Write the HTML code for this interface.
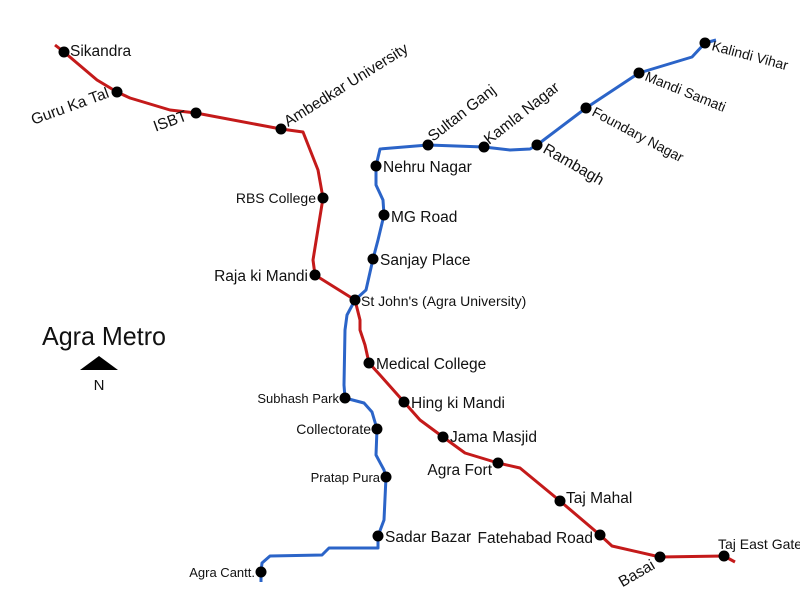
<!DOCTYPE html>
<html><head><meta charset="utf-8"><style>
html,body{margin:0;padding:0;background:#fff;}
svg{display:block;}
text{font-family:"Liberation Sans",sans-serif;fill:#111;}
</style></head><body>
<svg width="800" height="600" viewBox="0 0 800 600" xmlns="http://www.w3.org/2000/svg">
<rect width="800" height="600" fill="#fff"/>
<polyline fill="none" stroke="#c41a1a" stroke-width="3" stroke-linejoin="round" points="55,45 64,52 97,80 117,92 130,98 170,110 196,113 281,129 303,132 318,170 323,198 313,260 315,275 355,300 360,320 360,330 365,345 369,363 380,375 404,402 420,420 443,437 465,453 498,463 520,468 560,501 600,535 612,546 660,557 724,556 735,562"/>
<polyline fill="none" stroke="#2b64c8" stroke-width="3" stroke-linejoin="round" points="716,40 705,43 692,57 639,73 586,108 537,145 530,149 510,150 484,147 428,145 380,149 376,166 376,185 383,200 384,215 378,240 373,259 366,290 355,300 347,315 345,330 344,385 345,398 364,403 372,412 377,429 376,455 384,470 386,477 384,520 378,536 378,548 329,548 322,555 270,556 262,563 261,572 261,582"/>
<g fill="#000">
<circle cx="64" cy="52" r="5.5"/><circle cx="117" cy="92" r="5.5"/><circle cx="196" cy="113" r="5.5"/><circle cx="281" cy="129" r="5.5"/><circle cx="323" cy="198" r="5.5"/><circle cx="315" cy="275" r="5.5"/><circle cx="355" cy="300" r="5.5"/><circle cx="369" cy="363" r="5.5"/><circle cx="404" cy="402" r="5.5"/><circle cx="443" cy="437" r="5.5"/><circle cx="498" cy="463" r="5.5"/><circle cx="560" cy="501" r="5.5"/><circle cx="600" cy="535" r="5.5"/><circle cx="660" cy="557" r="5.5"/><circle cx="724" cy="556" r="5.5"/>
<circle cx="705" cy="43" r="5.5"/><circle cx="639" cy="73" r="5.5"/><circle cx="586" cy="108" r="5.5"/><circle cx="537" cy="145" r="5.5"/><circle cx="484" cy="147" r="5.5"/><circle cx="428" cy="145" r="5.5"/><circle cx="376" cy="166" r="5.5"/><circle cx="384" cy="215" r="5.5"/><circle cx="373" cy="259" r="5.5"/><circle cx="345" cy="398" r="5.5"/><circle cx="377" cy="429" r="5.5"/><circle cx="386" cy="477" r="5.5"/><circle cx="378" cy="536" r="5.5"/><circle cx="261" cy="572" r="5.5"/>
</g>
<g font-size="15.5">
<text x="70" y="56">Sikandra</text>
<text transform="translate(110,97) rotate(-20)" text-anchor="end">Guru Ka Tal</text>
<text transform="translate(188,120) rotate(-20)" text-anchor="end">ISBT</text>
<text transform="translate(288,127) rotate(-32)">Ambedkar University</text>
<text x="316" y="203" text-anchor="end" font-size="14">RBS College</text>
<text x="308" y="281" text-anchor="end">Raja ki Mandi</text>
<text x="361" y="306" font-size="14">St John's (Agra University)</text>
<text x="376" y="369">Medical College</text>
<text x="411" y="408">Hing ki Mandi</text>
<text x="450" y="442">Jama Masjid</text>
<text x="492" y="475" text-anchor="end">Agra Fort</text>
<text x="566" y="503">Taj Mahal</text>
<text x="593" y="543" text-anchor="end">Fatehabad Road</text>
<text transform="translate(656,568) rotate(-30)" text-anchor="end">Basai</text>
<text x="718" y="549" font-size="14">Taj East Gate</text>
<text transform="translate(711,50) rotate(15)" font-size="14">Kalindi Vihar</text>
<text transform="translate(644,80) rotate(22)" font-size="14">Mandi Samati</text>
<text transform="translate(591,115) rotate(28)" font-size="14">Foundary Nagar</text>
<text transform="translate(542,152) rotate(30)">Rambagh</text>
<text transform="translate(489,145) rotate(-38)">Kamla Nagar</text>
<text transform="translate(433,142) rotate(-38)">Sultan Ganj</text>
<text x="383" y="172">Nehru Nagar</text>
<text x="391" y="222">MG Road</text>
<text x="380" y="265">Sanjay Place</text>
<text x="339" y="403" text-anchor="end" font-size="13">Subhash Park</text>
<text x="371" y="434" text-anchor="end" font-size="14">Collectorate</text>
<text x="380" y="482" text-anchor="end" font-size="13">Pratap Pura</text>
<text x="385" y="542">Sadar Bazar</text>
<text x="255" y="577" text-anchor="end" font-size="13">Agra Cantt.</text>
</g>
<text x="42" y="345" font-size="26" textLength="124" lengthAdjust="spacingAndGlyphs">Agra Metro</text>
<polygon points="80,370 118,370 99,356" fill="#000"/>
<text x="99" y="390" font-size="15" text-anchor="middle">N</text>
</svg>
</body></html>
